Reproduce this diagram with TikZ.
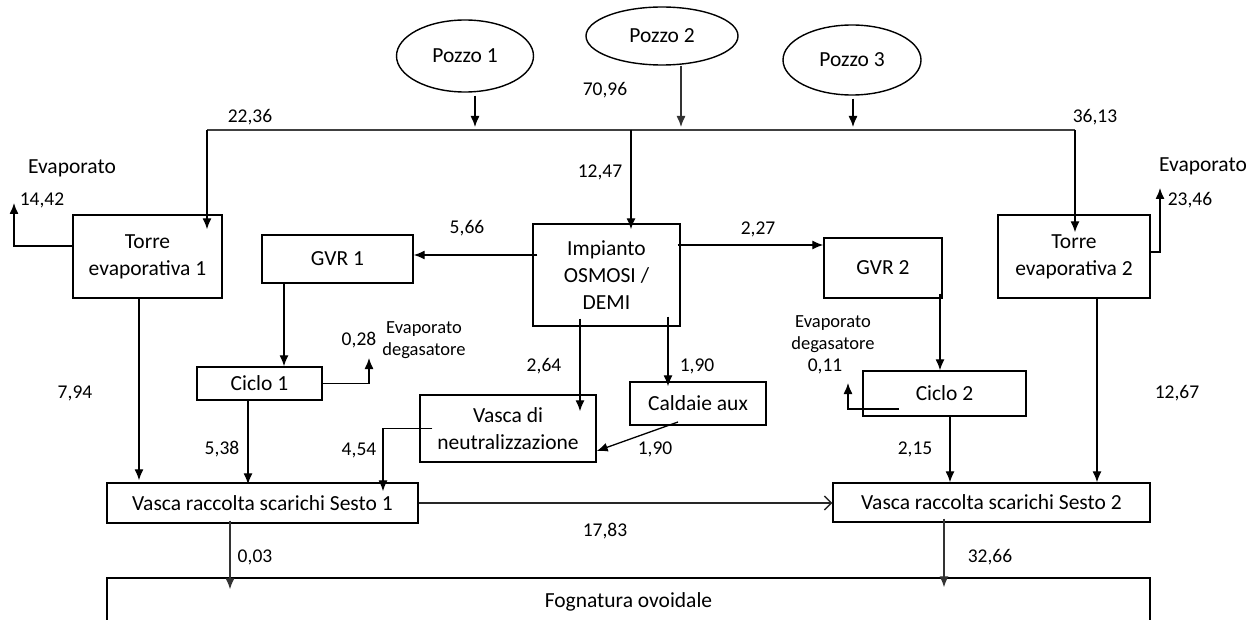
\documentclass[tikz,border=0pt]{standalone}
\usepackage{fontspec}
\setmainfont{Carlito}
\usetikzlibrary{arrows.meta,shapes.geometric}

\begin{document}
\begin{tikzpicture}[x=1pt,y=-1pt,
  every node/.style={font=\fontsize{21.5}{27}\selectfont},
  box/.style={draw, line width=1.4pt, rectangle, align=center, inner sep=0pt},
  pozzo/.style={draw, line width=1.4pt, ellipse, inner sep=0pt},
  num/.style={font=\fontsize{19.5}{24}\selectfont},
  small/.style={font=\fontsize{18.5}{22}\selectfont, align=center},
  flow/.style={line width=1.3pt, -{Latex[length=11pt,width=9pt]}}]
  \clip (0,0) rectangle (1258,620);

  % pozzi
  \node [pozzo, minimum width=137pt, minimum height=72pt] (pozzo1) at (465,56) {Pozzo 1};
  \node [pozzo, minimum width=152pt, minimum height=58pt] (pozzo2) at (662,36) {Pozzo 2};
  \node [pozzo, minimum width=138pt, minimum height=70pt] (pozzo3) at (852,60) {Pozzo 3};

  % impianti
  \node [box, minimum width=149pt, minimum height=83pt] (torre1) at (147.5,256.5) {Torre\\evaporativa 1};
  \node [box, minimum width=152pt, minimum height=83pt] (torre2) at (1074,256.5) {Torre\\evaporativa 2};
  \node [box, minimum width=151pt, minimum height=48pt] (gvr1) at (337.5,259) {GVR 1};
  \node [box, minimum width=147pt, minimum height=102pt] (osmosi) at (606.5,275) {Impianto\\OSMOSI /\\DEMI};
  \node [box, minimum width=118pt, minimum height=60pt] (gvr2) at (883,268) {GVR 2};
  \node [box, minimum width=125pt, minimum height=33pt] (ciclo1) at (259.5,383.5) {Ciclo 1};
  \node [box, minimum width=163pt, minimum height=45pt] (ciclo2) at (944.5,393.5) {Ciclo 2};
  \node [box, minimum width=176pt, minimum height=67pt] (neutr) at (508,428.5) {Vasca di\\neutralizzazione};
  \node [box, minimum width=136pt, minimum height=43pt] (caldaie) at (698,403.5) {Caldaie aux};
  \node [box, minimum width=311pt, minimum height=40pt] (sesto1) at (262.5,503) {Vasca raccolta scarichi Sesto 1};
  \node [box, minimum width=317pt, minimum height=39pt] (sesto2) at (991.5,502.5) {Vasca raccolta scarichi Sesto 2};
  \node [box, minimum width=1043pt, minimum height=48pt] (fogna) at (628.5,602) {Fognatura ovoidale};

  % collettore pozzi
  \coordinate (hl) at (207,130);
  \coordinate (hm) at (631,130);
  \coordinate (hr) at (1075,130);
  \draw [line width=1.8pt, black!75] (hl) -- (hm) -- (hr);
  \draw [flow, shorten <=3pt, shorten >=3pt] ([xshift=10pt]pozzo1.south) -- ([xshift=10pt]pozzo1.south |- hm);
  \draw [flow, black!80, shorten >=3pt] ([xshift=19pt]pozzo2.south) -- ([xshift=19pt]pozzo2.south |- hm);
  \draw [flow, shorten <=3pt, shorten >=3pt] ([xshift=1pt]pozzo3.south) -- ([xshift=1pt]pozzo3.south |- hm);
  \draw [flow, shorten >=-15pt] (hl) -- (hl |- torre1.north);
  \draw [flow, shorten >=-6pt] (hm) -- (hm |- osmosi.north);
  \draw [flow, shorten >=-18pt] (hr) -- (hr |- torre2.north);

  % evaporato torri
  \coordinate (evt1) at (14,203);
  \coordinate (evt2) at (1160,188);
  \draw [flow] ([yshift=10.5pt]torre1.west) -| (evt1);
  \draw [flow] ([yshift=4.5pt]torre2.east) -| (evt2);

  % osmosi / demi
  \draw [flow, shorten <=-5pt] ([yshift=20pt]osmosi.west) -- ([yshift=20pt]osmosi.west -| gvr1.east);
  \draw [flow, shorten <=-3pt] ([yshift=30pt]osmosi.east) -- ([yshift=30pt]osmosi.east -| gvr2.west);
  \draw [flow, shorten <=-8pt, shorten >=-17pt] ([xshift=-26.5pt]osmosi.south) -- ([xshift=-26.5pt]osmosi.south |- neutr.north);
  \draw [flow, shorten <=-10pt, shorten >=-5pt] ([xshift=61.5pt]osmosi.south) -- ([xshift=61.5pt]osmosi.south |- caldaie.north);
  \draw [flow] ([xshift=-20pt,yshift=-18.5pt]caldaie.center) -- ([yshift=-22.5pt]neutr.east);

  % cicli
  \coordinate (evc1) at (369,358);
  \coordinate (evc2) at (848,383);
  \draw [flow, shorten <=-1pt] ([xshift=-53.5pt]gvr1.south) -- ([xshift=-53.5pt]gvr1.south |- ciclo1.north);
  \draw [flow, shorten <=-5pt] ([xshift=57pt]gvr2.south) -- ([xshift=57pt]gvr2.south |- ciclo2.north);
  \draw [flow] (ciclo1.east) -| (evc1);
  \draw [flow] ([xshift=-45.5pt,yshift=-15.5pt]ciclo2.center) -| (evc2);

  % scarichi
  \draw [flow, shorten <=-13pt, shorten >=-9pt] (neutr.west) -| ([xshift=120.5pt]sesto1.north);
  \draw [flow, shorten >=2pt] ([xshift=-8.5pt]torre1.south) -- ([xshift=-8.5pt]torre1.south |- sesto1.north);
  \draw [flow, shorten >=-2pt] ([xshift=-11.5pt]ciclo1.south) -- ([xshift=-11.5pt]ciclo1.south |- sesto1.north);
  \draw [flow] ([xshift=5.5pt]ciclo2.south) -- ([xshift=5.5pt]ciclo2.south |- sesto2.north);
  \draw [flow] ([xshift=23pt]torre2.south) -- ([xshift=23pt]torre2.south |- sesto2.north);
  \draw [line width=1.3pt, black!85, -{Straight Barb[length=7pt,width=14pt]}] (sesto1.east) -- (sesto1.east -| sesto2.west);
  \draw [flow, black!80, shorten <=-3pt, shorten >=-12pt] ([xshift=-32.5pt]sesto1.south) -- ([xshift=-32.5pt]sesto1.south |- fogna.north);
  \draw [flow, black!80, shorten <=-4pt, shorten >=-10pt] ([xshift=-47.5pt]sesto2.south) -- ([xshift=-47.5pt]sesto2.south |- fogna.north);

  % portate
  \node [num] (q2236) at (250,117) {22,36};
  \node [num] (q7096) at (605,90) {70,96};
  \node [num] (q3613) at (1095,117) {36,13};
  \node [num] (q1247) at (600,172) {12,47};
  \node (ev1) at (72,168) {Evaporato};
  \node [num] (q1442) at (42,200) {14,42};
  \node (ev2) at (1203,166) {Evaporato};
  \node [num] (q2346) at (1190,200) {23,46};
  \node [num] (q566) at (467,228) {5,66};
  \node [num] (q227) at (758,229) {2,27};
  \node [num] (q028) at (359,340) {0,28};
  \node [small] (deg1) at (424,340) {Evaporato\\degasatore};
  \node [small] (deg2) at (833,334) {Evaporato\\degasatore};
  \node [num] (q011) at (825,366) {0,11};
  \node [num] (q264) at (544,366) {2,64};
  \node [num] (q190a) at (697,366) {1,90};
  \node [num] (q190b) at (655,449) {1,90};
  \node [num] (q454) at (359,450) {4,54};
  \node [num] (q794) at (75,393) {7,94};
  \node [num] (q538) at (222,449) {5,38};
  \node [num] (q1267) at (1177,393) {12,67};
  \node [num] (q215) at (915,449) {2,15};
  \node [num] (q1783) at (605,531) {17,83};
  \node [num] (q003) at (255,557) {0,03};
  \node [num] (q3266) at (990,557) {32,66};
\end{tikzpicture}
\end{document}
